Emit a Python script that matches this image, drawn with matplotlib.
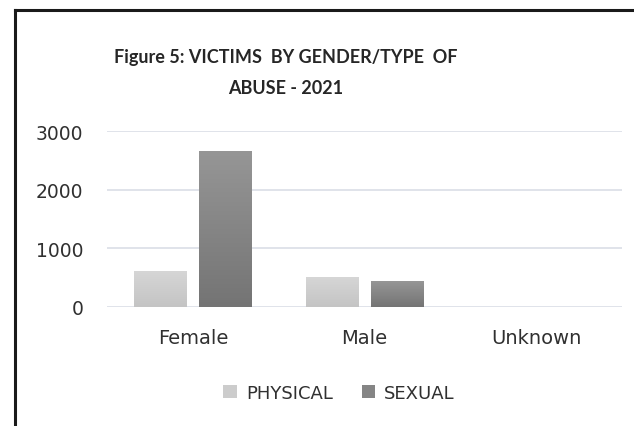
import numpy as np
import matplotlib
matplotlib.use("Agg")
import matplotlib.pyplot as plt
from matplotlib.lines import Line2D
from matplotlib.patches import Patch

# Victims by gender and type of abuse, 2021
categories = ["Female", "Male", "Unknown"]
physical = [610, 510, 0]
sexual = [2655, 440, 0]
series_names = ["PHYSICAL", "SEXUAL"]
y_ticks = [0, 1000, 2000, 3000]

W, H, DPI = 634, 427, 100
fig = plt.figure(figsize=(W / DPI, H / DPI), dpi=DPI)
fig.patch.set_facecolor("white")

# Chart frame (left and top edges visible)
fig.add_artist(Line2D([15 / W, 15 / W], [0, 1 - 11 / H], color="#1a1a1a", lw=2.2,
                      transform=fig.transFigure))
fig.add_artist(Line2D([15 / W, 1], [1 - 11 / H, 1 - 11 / H], color="#1a1a1a", lw=2.2,
                      transform=fig.transFigure))

left, right, bottom, top = 107 / W, 622 / W, 1 - 307.7 / H, 1 - 132 / H
ax = fig.add_axes([left, bottom, right - left, top - bottom])

x = np.arange(len(categories))
bw = 0.303
gap = 0.076
off = (bw + gap) / 2

phys_bars = ax.bar(x - off, physical, bw, color="#cccccc", zorder=3)
sex_bars = ax.bar(x + off, sexual, bw, color="#858585", zorder=3)

# Vertical shading inside each bar
def shade(bars, c_top, c_bot):
    grad = np.linspace(0, 1, 256).reshape(-1, 1)
    c1 = np.array(matplotlib.colors.to_rgb(c_top))
    c2 = np.array(matplotlib.colors.to_rgb(c_bot))
    img = c1 + (c2 - c1) * grad[..., None]
    for b in bars:
        h = b.get_height()
        if h <= 0:
            continue
        x0 = b.get_x()
        im = ax.imshow(img, extent=[x0, x0 + b.get_width(), 0, h], origin="upper",
                       aspect="auto", zorder=4, interpolation="bilinear")
        im.set_clip_path(b)

shade(phys_bars, "#d6d6d6", "#c4c4c4")
shade(sex_bars, "#969696", "#747474")

ax.set_xlim(-0.5, len(categories) - 0.5)
ax.set_ylim(0, 3000)
ax.set_yticks(y_ticks)
ax.set_xticks(x)
ax.set_xticklabels(categories)
ax.yaxis.grid(True, color="#dadee6", lw=1.2, zorder=0)
ax.set_axisbelow(True)
for s in ax.spines.values():
    s.set_visible(False)
ax.tick_params(axis="both", length=0, labelcolor="#303030")
ax.tick_params(axis="y", pad=17, labelsize=13.5)
ax.tick_params(axis="x", pad=15, labelsize=14)
ax.set_facecolor("none")

fig.text(0.45, 1 - 57 / H, "Figure 5: VICTIMS  BY GENDER/TYPE  OF", ha="center", va="center",
         fontsize=13, fontweight="bold", family="Lato", color="#262626")
fig.text(0.45, 1 - 88 / H, "ABUSE - 2021", ha="center", va="center",
         fontsize=13, fontweight="bold", family="Lato", color="#262626")

handles = [Patch(facecolor="#cccccc"), Patch(facecolor="#858585")]
fig.legend(handles, series_names, loc="center", bbox_to_anchor=(339 / W, 1 - 394 / H),
           ncol=2, frameon=False, fontsize=13, handlelength=0.75, handleheight=0.75,
           handletextpad=0.5, columnspacing=1.6, labelcolor="#303030")

fig.savefig("out.png", dpi=DPI)
